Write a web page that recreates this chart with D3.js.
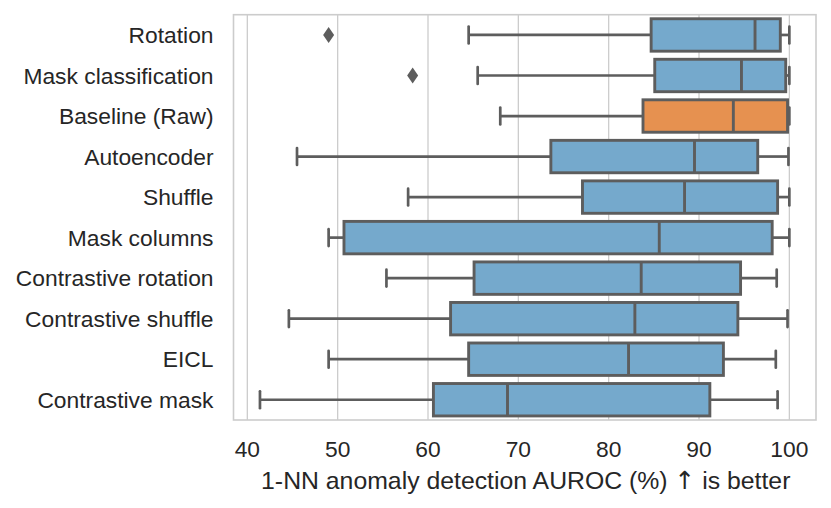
<!DOCTYPE html>
<html>
<head>
<meta charset="utf-8">
<script src="https://cdn.jsdelivr.net/npm/d3@7/dist/d3.min.js"></script>
<style>
  html, body { margin: 0; padding: 0; background: #fff; }
  svg { display: block; }
  .arrow { font-variant-emoji: text; }
</style>
</head>
<body>
<svg id="chart" width="831" height="508"></svg>
<script>
// ---- data ----
const categories = ["Rotation", "Mask classification", "Baseline (Raw)", "Autoencoder", "Shuffle",
  "Mask columns", "Contrastive rotation", "Contrastive shuffle", "EICL", "Contrastive mask"];
const whiskerLow  = [64.5, 65.5, 68.0, 45.5, 57.8, 49.0, 55.4, 44.6, 49.0, 41.4];
const q1          = [84.7, 85.1, 83.8, 73.6, 77.1, 50.7, 65.1, 62.5, 64.5, 60.6];
const median      = [96.2, 94.7, 93.8, 89.5, 88.4, 85.6, 83.6, 82.9, 82.2, 68.8];
const q3          = [99.0, 99.6, 99.8, 96.5, 98.7, 98.1, 94.6, 94.3, 92.7, 91.2];
const whiskerHigh = [100.0, 100.0, 100.0, 99.9, 100.0, 100.0, 98.6, 99.8, 98.5, 98.7];
const outlierCat  = ["Rotation", "Mask classification"];
const outlierVal  = [49.0, 58.3];
const highlighted = ["Baseline (Raw)"];
const xTicks = [40, 50, 60, 70, 80, 90, 100];
const xLabelParts = ["1-NN anomaly detection AUROC (%) ", "\u2191\uFE0E", " is better"];

// ---- styles ----
const blue = "#75a9cc", orange = "#e69150", edge = "#5d5d5d", grid = "#cccccc", textCol = "#262626";
const fontFamily = "'Liberation Sans', Arial, Helvetica, sans-serif";
const fontSize = 22.8;
const labelSize = 24.8;

const svg = d3.select("#chart");
const pLeft = 233.5, pRight = 816, pTop = 14.7, pBottom = 420;

const x = d3.scaleLinear().domain([38.47, 102.95]).range([pLeft, pRight]);
const y = d3.scaleBand().domain(categories).range([pTop, pBottom]).padding(0);

// gridlines
svg.append("g").selectAll("line").data(xTicks).join("line")
  .attr("x1", d => x(d)).attr("x2", d => x(d))
  .attr("y1", pTop).attr("y2", pBottom)
  .attr("stroke", grid).attr("stroke-width", 1.3);

const bw = y.bandwidth() * 0.8;
const capW = bw * 0.52;
const rows = categories.map((c, i) => ({c, lo: whiskerLow[i], q1: q1[i], med: median[i], q3: q3[i], hi: whiskerHigh[i]}));

const g = svg.append("g");
const row = g.selectAll("g.row").data(rows).join("g").attr("class", "row")
  .attr("transform", d => `translate(0,${y(d.c) + y.bandwidth() / 2})`);

// whiskers
row.append("line").attr("x1", d => x(d.lo)).attr("x2", d => x(d.q1)).attr("y1", 0).attr("y2", 0)
  .attr("stroke", edge).attr("stroke-width", 2.7);
row.append("line").attr("x1", d => x(d.q3)).attr("x2", d => x(d.hi)).attr("y1", 0).attr("y2", 0)
  .attr("stroke", edge).attr("stroke-width", 2.7);
// caps
row.append("line").attr("x1", d => x(d.lo)).attr("x2", d => x(d.lo)).attr("y1", -capW / 2).attr("y2", capW / 2)
  .attr("stroke", edge).attr("stroke-width", 2.7).attr("stroke-linecap", "round");
row.append("line").attr("x1", d => x(d.hi)).attr("x2", d => x(d.hi)).attr("y1", -capW / 2).attr("y2", capW / 2)
  .attr("stroke", edge).attr("stroke-width", 2.7).attr("stroke-linecap", "round");
// boxes
row.append("rect")
  .attr("x", d => x(d.q1)).attr("width", d => x(d.q3) - x(d.q1))
  .attr("y", -bw / 2).attr("height", bw)
  .attr("fill", d => highlighted.includes(d.c) ? orange : blue)
  .attr("stroke", edge).attr("stroke-width", 2.9);
// medians
row.append("line").attr("x1", d => x(d.med)).attr("x2", d => x(d.med)).attr("y1", -bw / 2).attr("y2", bw / 2)
  .attr("stroke", edge).attr("stroke-width", 2.9);

// outliers (diamonds)
const diamond = "M0,-8 L5.5,0 L0,8 L-5.5,0 Z";
g.selectAll("path.out").data(outlierCat.map((c, i) => ({c, v: outlierVal[i]}))).join("path")
  .attr("class", "out")
  .attr("d", diamond)
  .attr("transform", d => `translate(${x(d.v)},${y(d.c) + y.bandwidth() / 2})`)
  .attr("fill", edge);

// frame
svg.append("rect").attr("x", pLeft).attr("y", pTop).attr("width", pRight - pLeft).attr("height", pBottom - pTop)
  .attr("fill", "none").attr("stroke", grid).attr("stroke-width", 1.6);

// y labels
svg.append("g").selectAll("text").data(categories).join("text")
  .attr("x", pLeft - 20).attr("y", d => y(d) + y.bandwidth() / 2)
  .attr("dy", "0.36em")
  .attr("text-anchor", "end")
  .attr("font-family", fontFamily).attr("font-size", fontSize).attr("fill", textCol)
  .text(d => d);

// x tick labels
svg.append("g").selectAll("text").data(xTicks).join("text")
  .attr("x", d => x(d)).attr("y", 457)
  .attr("text-anchor", "middle")
  .attr("font-family", fontFamily).attr("font-size", fontSize).attr("fill", textCol)
  .text(d => d);

// x label
const xl = svg.append("text")
  .attr("x", (pLeft + pRight) / 2 + 1).attr("y", 489)
  .attr("text-anchor", "middle")
  .attr("font-family", fontFamily).attr("font-size", labelSize).attr("fill", textCol);
xl.selectAll("tspan").data(xLabelParts).join("tspan")
  .attr("class", (d, i) => i === 1 ? "arrow" : null)
  .attr("font-family", (d, i) => i === 1 ? "'DejaVu Sans', 'Liberation Sans'" : fontFamily)
  .attr("fill", textCol)
  .text(d => d);
</script>
</body>
</html>
